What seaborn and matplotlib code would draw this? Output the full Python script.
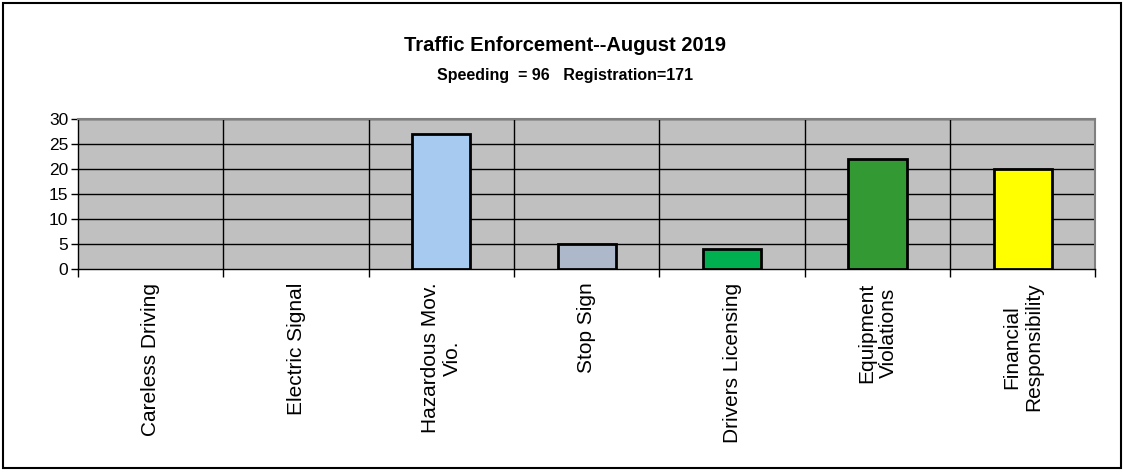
import matplotlib
matplotlib.use('Agg')
import matplotlib.pyplot as plt
import seaborn as sns
import pandas as pd
from matplotlib.patches import Rectangle

# Data
categories = ['Careless Driving', 'Electric Signal', 'Hazardous Mov.\nVio.', 'Stop Sign',
              'Drivers Licensing', 'Equipment\nViolations', 'Financial\nResponsibility']
counts = [0, 0, 27, 5, 4, 22, 20]
bar_colors = ['#A6CAF0', '#A6CAF0', '#A6CAF0', '#ADB9CA', '#00B050', '#339933', '#FFFF00']
y_ticks = [0, 5, 10, 15, 20, 25, 30]

df = pd.DataFrame({'category': categories, 'count': counts})

sns.set_style('white')
plt.rcParams['font.family'] = ['Liberation Sans', 'DejaVu Sans']
plt.rcParams.update({'text.color': 'black', 'xtick.color': 'black', 'ytick.color': 'black'})

fig = plt.figure(figsize=(11.23, 4.75), dpi=100)
ax = fig.add_axes([0.0695, 0.434, 0.906, 0.316])
ax.set_facecolor('#C0C0C0')

sns.barplot(data=df, x='category', y='count', hue='category', palette=bar_colors,
            saturation=1, legend=False, width=0.4, edgecolor='black', linewidth=2,
            ax=ax, zorder=3)

# empty categories show no bar at all
for p in ax.patches:
    if p.get_height() == 0:
        p.set_visible(False)

ax.set_xlim(-0.5, len(categories) - 0.5)
ax.set_ylim(0, 30)
ax.set_yticks(y_ticks)
ax.tick_params(axis='y', labelsize=12.5, length=5, width=1, color='black', pad=2, left=True)

# category labels at centres, tick marks on boundaries
ax.set_xticks(range(len(categories)))
ax.set_xticklabels(categories, rotation=90, fontsize=15,
                   ha='center', va='top', multialignment='center')
ax.tick_params(axis='x', length=0, pad=10)
bounds = [i - 0.5 for i in range(len(categories) + 1)]
ax.set_xticks(bounds, minor=True)
ax.tick_params(axis='x', which='minor', length=6, width=1, color='black', bottom=True)

for y in y_ticks[1:]:
    ax.axhline(y, color='black', lw=1, zorder=1)
for x in bounds[1:-1]:
    ax.axvline(x, color='black', lw=1, zorder=1)

ax.set_xlabel('')
ax.set_ylabel('')
for side in ['top', 'right']:
    ax.spines[side].set_color('#808080')
    ax.spines[side].set_linewidth(1.5)
for side in ['left', 'bottom']:
    ax.spines[side].set_color('black')
    ax.spines[side].set_linewidth(1)

fig.text(0.503, 0.905, 'Traffic Enforcement--August 2019', ha='center', va='center',
         fontsize=14.5, fontweight='bold')
fig.text(0.503, 0.842, 'Speeding  = 96   Registration=171', ha='center', va='center',
         fontsize=11.5, fontweight='bold')

fig.patches.append(Rectangle((0.003, 0.015), 0.995, 0.979, transform=fig.transFigure,
                             fill=False, edgecolor='black', linewidth=1.5))

fig.savefig('out.png', dpi=100)
